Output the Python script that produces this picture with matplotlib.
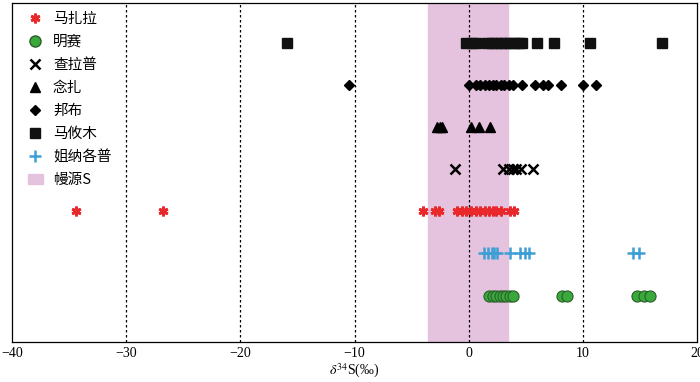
import matplotlib
matplotlib.use("Agg")
import matplotlib.pyplot as plt
from matplotlib.patches import Patch
from matplotlib.lines import Line2D

plt.rcParams['mathtext.fontset'] = 'stix'

# delta34S values (permil) per deposit
mazhala = [-34.4, -26.8, -4.0, -3.0, -2.6, -1.0, -0.6, -0.2, 0.2, 0.6, 1.0,
           1.4, 1.8, 2.1, 2.4, 2.8, 3.6, 4.0]
mingsai = [1.8, 2.1, 2.4, 2.7, 3.0, 3.3, 3.6, 3.9, 8.2, 8.6, 14.7, 15.3, 15.9]
chalapu = [-1.2, 3.0, 3.5, 3.9, 4.1, 4.6, 5.6]
nianzha = [-2.8, -2.5, -2.3, 0.2, 0.9, 1.9]
bangbu = [-10.5, 0.0, 0.6, 1.0, 1.4, 1.8, 2.1, 2.4, 2.8, 3.1, 3.5, 3.9,
          4.7, 5.8, 6.5, 6.9, 8.1, 10.0, 11.1]
mayoumu = [-15.9, -0.2, 0.3, 0.6, 1.6, 2.0, 2.4, 2.8, 3.2, 3.6, 4.0, 4.4,
           4.7, 6.0, 7.5, 10.6, 16.9]
jienagepu = [1.3, 1.7, 2.0, 2.2, 2.5, 3.6, 4.5, 4.9, 5.3, 14.4, 14.9]
mantle_s = [-3.6, 3.4]

names = ['马扎拉', '明赛', '查拉普', '念扎', '邦布', '马攸木', '姐纳各普']
rows = [3, 1, 4, 5, 6, 7, 2]
cn = ['Noto Sans CJK SC', 'DejaVu Sans']

fig = plt.figure(figsize=(7, 3.82), dpi=100)
ax = fig.add_axes([0.017, 0.105, 0.979, 0.887])

ax.axvspan(mantle_s[0], mantle_s[1], color='#e5c3de', zorder=0)
for xv in [-30, -20, -10, 0, 10]:
    ax.axvline(xv, color='k', ls=(0, (2, 2)), lw=0.9, zorder=1)

ax.plot(mazhala, [rows[0]] * len(mazhala), ls='none', marker=(6, 2, 0),
        ms=7, mew=2, color='#e8282b', zorder=3)
ax.plot(mingsai, [rows[1]] * len(mingsai), ls='none', marker='o', ms=8,
        mfc='#3aa93b', mec='#2b5e2b', mew=0.8, zorder=3)
ax.plot(chalapu, [rows[2]] * len(chalapu), ls='none', marker='x', ms=7,
        mew=1.8, color='k', zorder=3)
ax.plot(nianzha, [rows[3]] * len(nianzha), ls='none', marker='^', ms=7,
        color='k', zorder=3)
ax.plot(bangbu, [rows[4]] * len(bangbu), ls='none', marker='D', ms=5.5,
        color='k', zorder=3)
ax.plot(mayoumu, [rows[5]] * len(mayoumu), ls='none', marker='s', ms=7,
        color='#111111', zorder=3)
ax.plot(jienagepu, [rows[6]] * len(jienagepu), ls='none', marker='+', ms=9,
        mew=1.8, color='#3e9fd6', zorder=3)

handles = [
    Line2D([], [], ls='none', marker=(6, 2, 0), ms=7, mew=2, color='#e8282b'),
    Line2D([], [], ls='none', marker='o', ms=8, mfc='#3aa93b', mec='#2b5e2b'),
    Line2D([], [], ls='none', marker='x', ms=7, mew=1.8, color='k'),
    Line2D([], [], ls='none', marker='^', ms=7, color='k'),
    Line2D([], [], ls='none', marker='D', ms=5, color='k'),
    Line2D([], [], ls='none', marker='s', ms=7, color='#111111'),
    Line2D([], [], ls='none', marker='+', ms=9, mew=1.8, color='#3e9fd6'),
    Patch(color='#e5c3de'),
]
labels = names + ['幔源S']
ax.legend(handles, labels, loc='upper left', bbox_to_anchor=(0.011, 1.0),
          frameon=False, prop={'family': cn, 'size': 10.5}, handlelength=1.0,
          handletextpad=0.7, labelspacing=0.62, borderaxespad=0.2,
          borderpad=0.4)

ax.set_xlim(-40, 20)
ax.set_ylim(-0.1, 7.95)
ax.set_yticks([])
ax.set_xticks([-40, -30, -20, -10, 0, 10, 20])
ax.set_xticklabels(['\u221240', '\u221230', '\u221220', '\u221210', '0', '10', '20'],
                   family='Liberation Serif', fontsize=10)
ax.tick_params(axis='x', length=0, pad=4)
ax.set_xlabel(r'$\delta^{34}$S(‰)', family='Liberation Serif', fontsize=10,
              labelpad=1)
for s in ax.spines.values():
    s.set_linewidth(0.9)

fig.savefig('out.png', dpi=100)
